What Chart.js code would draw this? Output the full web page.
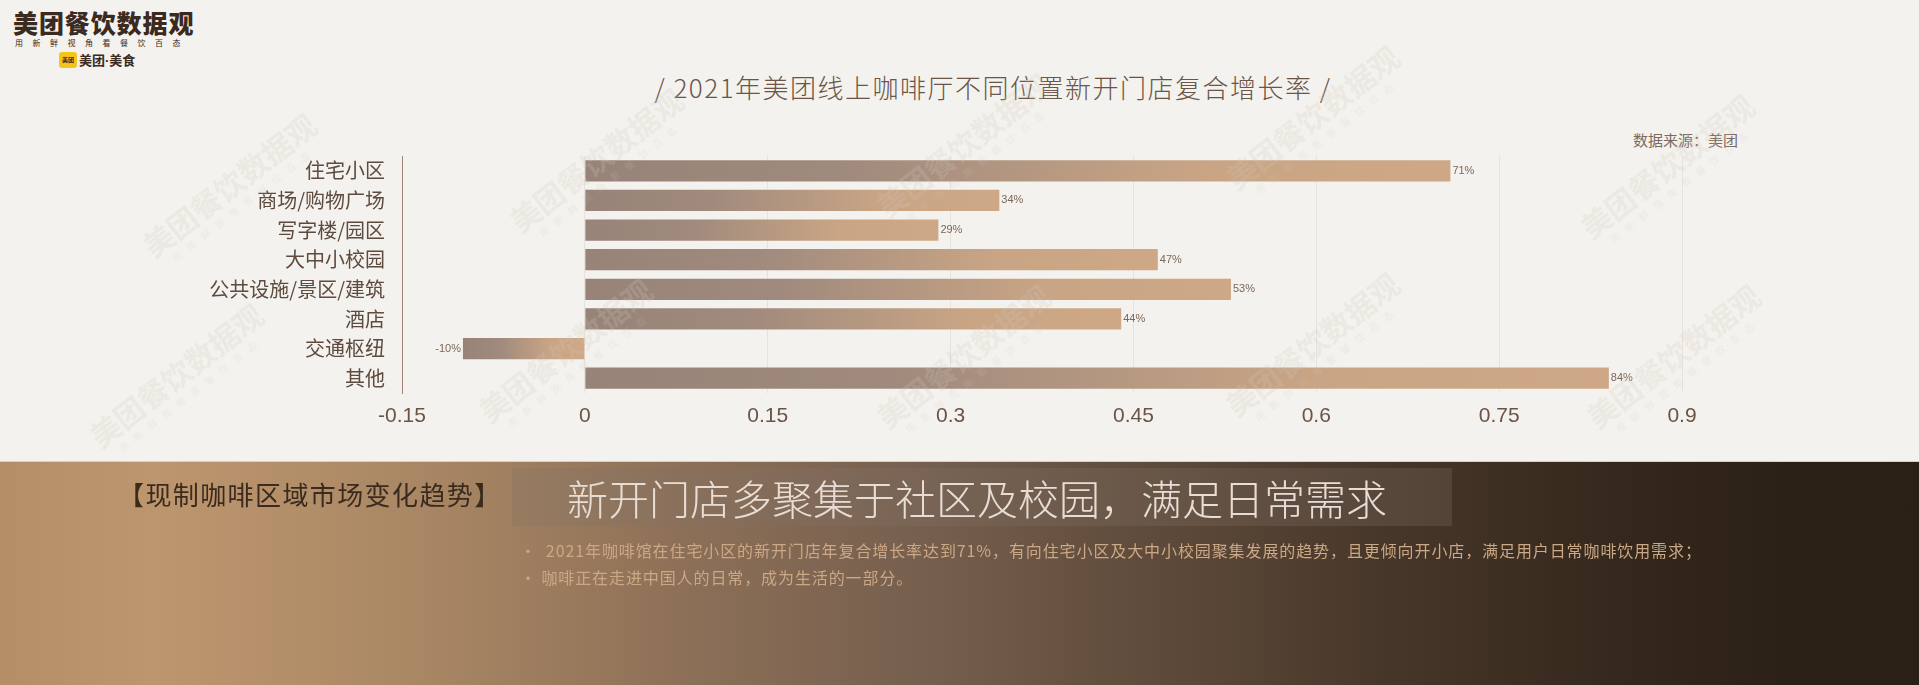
<!DOCTYPE html>
<html>
<head>
<meta charset="utf-8">
<script src="https://cdn.jsdelivr.net/npm/chart.js@4.4.1/dist/chart.umd.min.js"></script>
<style>
  html, body { margin: 0; padding: 0; }
  body {
    width: 1919px; height: 685px; overflow: hidden; position: relative;
    background: #f4f2ee;
    font-family: "Noto Sans CJK SC", "Noto Sans", sans-serif;
  }
  .abs { position: absolute; white-space: nowrap; }
  #logo { left: 13px; top: 8px; font-size: 25px; font-weight: 900; color: #3a2a20; line-height: 28px; letter-spacing: 0.9px; }
  #slogan { left: 15px; top: 38px; font-size: 8px; color: #3a2a20; line-height: 10px; letter-spacing: 9.5px; }
  #badge { left: 59px; top: 52px; width: 18px; height: 16px; background: #f5c518; border-radius: 3px;
           font-size: 6px; line-height: 16px; text-align: center; color: #3a2a20; font-weight: 700; }
  #brand { left: 79px; top: 50px; font-size: 13px; font-weight: 700; color: #3a2a20; line-height: 20px; }
  #brand span { font-family: "Liberation Sans", sans-serif; }
  #title { left: 0; width: 1986px; text-align: center; top: 71px; font-size: 26px; font-weight: 300; color: #6a5548; line-height: 32px; letter-spacing: 1.5px; }
  #source { right: 181px; top: 129px; font-size: 15px; color: #7c6a60; line-height: 22px; }
  #chartBox { position: absolute; left: 0; top: 127px; width: 1919px; height: 313px; }
  #wm { position: absolute; left: 0; top: 0; width: 1919px; height: 461px; pointer-events: none; overflow: hidden; }
  .w { position: absolute; transform: translate(-50%, -50%) rotate(-38deg); text-align: center;
       color: rgba(210, 200, 193, 0.22); white-space: nowrap; }
  .w b { display: block; font-size: 30px; line-height: 36px; }
  .w i { display: block; font-style: normal; font-size: 10px; letter-spacing: 8px; line-height: 14px; }
  #bottom { position: absolute; left: 0; top: 461px; width: 1919px; height: 224px;
    border-top: 1px solid #d9cfc5;
    background: linear-gradient(90deg, #b58e68 0%, #bd966e 8%, #a98764 22%, #8c6f57 36%, #765f4e 48%,
                #5f4b3b 60%, #47372a 72%, #35281c 84%, #2c2117 93%, #2b2016 100%); }
  #sect { left: 118px; top: 478px; font-size: 26px; color: #3b2b1f; line-height: 32px; letter-spacing: 1.4px; }
  #hbox { left: 512px; top: 468px; width: 940px; height: 58px; background: rgba(130, 115, 105, 0.28); }
  #head { left: 567px; top: 472px; font-size: 41px; font-weight: 300; color: #e8ddd5; line-height: 50px; }
  .bl { left: 520px; font-size: 16px; color: #cba886; line-height: 22px; letter-spacing: 0.9px; }
</style>
</head>
<body>
<div class="abs" id="logo">美团餐饮数据观</div>
<div class="abs" id="slogan">用新鲜视角看餐饮百态</div>
<div class="abs" id="badge">美团</div>
<div class="abs" id="brand">美团<span>·</span>美食</div>
<div class="abs" id="title">/ 2021年美团线上咖啡厅不同位置新开门店复合增长率 /</div>
<div class="abs" id="source">数据来源：美团</div>

<div id="chartBox"><canvas id="barChart" width="1919" height="313"></canvas></div>

<div id="wm"></div>

<div id="bottom"></div>
<div class="abs" id="sect">【现制咖啡区域市场变化趋势】</div>
<div class="abs" id="hbox"></div>
<div class="abs" id="head">新开门店多聚集于社区及校园，满足日常需求</div>
<div class="abs bl" style="top:539px;">·&nbsp;&nbsp;2021年咖啡馆在住宅小区的新开门店年复合增长率达到71%，有向住宅小区及大中小校园聚集发展的趋势，且更倾向开小店，满足用户日常咖啡饮用需求；</div>
<div class="abs bl" style="top:566px;">·&nbsp;咖啡正在走进中国人的日常，成为生活的一部分。</div>

<script>
// chart data
const categories = ['住宅小区', '商场/购物广场', '写字楼/园区', '大中小校园', '公共设施/景区/建筑', '酒店', '交通枢纽', '其他'];
const growthRates = [0.71, 0.34, 0.29, 0.47, 0.53, 0.44, -0.10, 0.84];
const rateLabels = ['71%', '34%', '29%', '47%', '53%', '44%', '-10%', '84%'];
const tickValues = [-0.15, 0, 0.15, 0.3, 0.45, 0.6, 0.75, 0.9];

// faint watermarks
const wmSpots = [[233, 190], [600, 165], [967, 150], [1316, 122], [1671, 171], [569, 355], [967, 361], [1316, 349], [1677, 361], [180, 380]];
const wm = document.getElementById('wm');
wmSpots.forEach(function (p) {
    const d = document.createElement('div');
    d.className = 'w';
    d.style.left = p[0] + 'px';
    d.style.top = p[1] + 'px';
    d.innerHTML = '<b>美团餐饮数据观</b><i>用新鲜视角看餐饮百态</i>';
    wm.appendChild(d);
});

// gradient along each bar, grey-brown at the left end, tan at the right end
function barGradient(c) {
    const chart = c.chart;
    const xs = chart.scales.x;
    if (!xs || !chart.chartArea || typeof c.raw !== 'number') return '#b39a88';
    const a = xs.getPixelForValue(Math.min(0, c.raw));
    const b = xs.getPixelForValue(Math.max(0, c.raw));
    if (!isFinite(a) || !isFinite(b) || a === b) return '#b39a88';
    const g = chart.ctx.createLinearGradient(a, 0, b, 0);
    g.addColorStop(0, '#978378');
    g.addColorStop(0.3, '#a08a7d');
    g.addColorStop(0.72, '#c9a585');
    g.addColorStop(1, '#cea886');
    return g;
}

// value labels at the bar ends
const endLabels = {
    id: 'endLabels',
    afterDatasetsDraw(chart) {
        const ctx = chart.ctx;
        const meta = chart.getDatasetMeta(0);
        ctx.save();
        ctx.font = '11px "Liberation Sans", Arial, sans-serif';
        ctx.fillStyle = '#7d675a';
        ctx.textBaseline = 'middle';
        meta.data.forEach(function (bar, i) {
            const v = growthRates[i];
            if (v >= 0) {
                ctx.textAlign = 'left';
                ctx.fillText(rateLabels[i], bar.x + 2, bar.y);
            } else {
                ctx.textAlign = 'right';
                ctx.fillText(rateLabels[i], bar.x - 2, bar.y);
            }
        });
        ctx.restore();
    }
};

new Chart(document.getElementById('barChart').getContext('2d'), {
    type: 'bar',
    data: {
        labels: categories,
        datasets: [{
            data: growthRates,
            backgroundColor: barGradient,
            borderWidth: 0,
            barPercentage: 0.72,
            categoryPercentage: 1
        }]
    },
    options: {
        indexAxis: 'y',
        responsive: false,
        animation: false,
        maintainAspectRatio: false,
        layout: { padding: { left: 0, right: 237, top: 0, bottom: 0 } },
        plugins: {
            legend: { display: false },
            tooltip: { enabled: false }
        },
        scales: {
            x: {
                min: -0.15,
                max: 0.9,
                afterBuildTicks: function (axis) {
                    axis.ticks = tickValues.map(v => ({ value: v }));
                },
                afterFit: function (axis) { axis.height = 47; },
                grid: { color: '#e7e2dc', drawTicks: false },
                border: { display: false },
                ticks: {
                    padding: 11,
                    color: '#6a5446',
                    font: { family: '"Liberation Sans", Arial, sans-serif', size: 21 },
                    callback: function (v) { return String(Math.round(v * 100) / 100); }
                }
            },
            y: {
                afterFit: function (axis) { axis.width = 402; },
                grid: { display: false, drawTicks: false },
                border: { display: true, color: '#a08474', width: 1 },
                ticks: {
                    padding: 17,
                    color: '#5e4a3e',
                    font: { family: '"Noto Sans CJK SC", sans-serif', size: 20 }
                }
            }
        }
    },
    plugins: [endLabels]
});
</script>
</body>
</html>
